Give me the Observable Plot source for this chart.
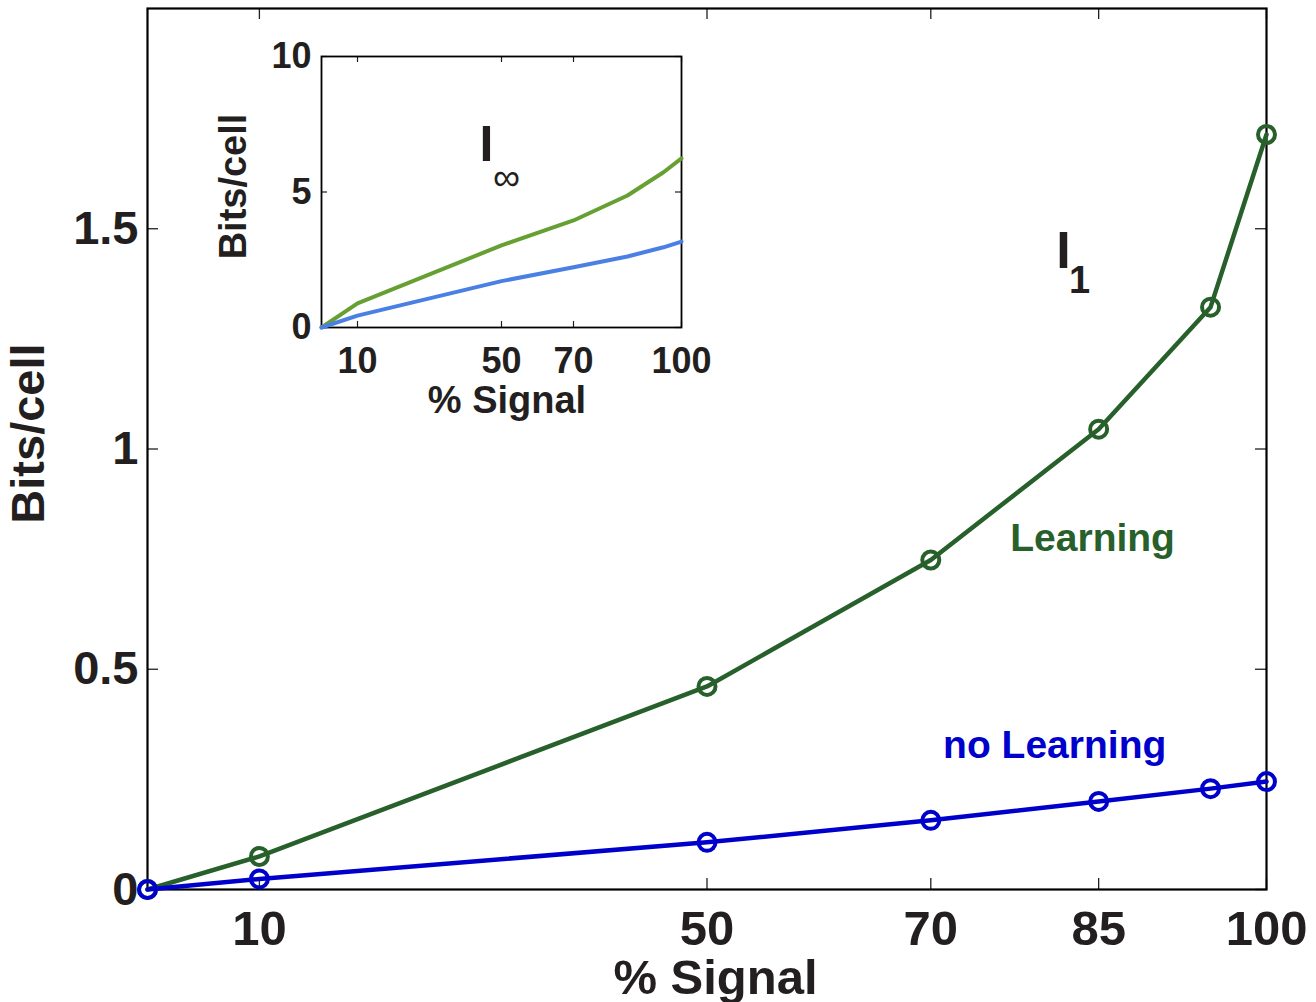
<!DOCTYPE html>
<html>
<head>
<meta charset="utf-8">
<script src="https://cdn.jsdelivr.net/npm/d3@7"></script>
<script src="https://cdn.jsdelivr.net/npm/@observablehq/plot@0.6"></script>
<style>
  html, body { margin: 0; padding: 0; background: #fff; }
  #wrap { position: relative; width: 1316px; height: 1002px; overflow: hidden; }
  #inset { position: absolute; left: 200px; top: 30px; }
</style>
</head>
<body>
<div id="wrap"><div id="main"></div><div id="inset"></div></div>
<script>
// ---- data ----
const signal = [0, 10, 50, 70, 85, 95, 100];
const learning = [0, 0.075, 0.461, 0.748, 1.045, 1.322, 1.714];
const noLearning = [0, 0.024, 0.107, 0.157, 0.200, 0.229, 0.245];

const insetLearning = [0, 0.89, 3.03, 3.95, 4.87, 5.73, 6.24];
const insetNoLearning = [0, 0.44, 1.71, 2.22, 2.62, 2.96, 3.17];

const xTicks = [10, 50, 70, 85, 100];
const yTicks = [0, 0.5, 1, 1.5];
const insetXTicks = [10, 50, 70, 100];
const insetYTicks = [0, 5, 10];

const FONT = "'Liberation Sans', Arial, Helvetica, sans-serif";
const INK = "#231f20";
const GREEN = "#27602b";
const BLUE = "#0000cc";
const IGREEN = "#66a032";
const IBLUE = "#4a80e4";

const mainRows = signal.map((s, i) => ({signal: s, value: learning[i], series: "Learning"}))
  .concat(signal.map((s, i) => ({signal: s, value: noLearning[i], series: "no Learning"})));
const insetRows = signal.map((s, i) => ({signal: s, value: insetLearning[i], series: "Learning"}))
  .concat(signal.map((s, i) => ({signal: s, value: insetNoLearning[i], series: "no Learning"})));

// ---- main chart ----
const W = 1316, H = 1002;
const mL = 147, mR = 50, mT = 8, mB = 113;
const xDom = [0, 100], yDom = [0, 2];
const tickPx = 11;
const kx = (xDom[1] - xDom[0]) / (W - mL - mR);
const ky = (yDom[1] - yDom[0]) / (H - mT - mB);

const main = Plot.plot({
  width: W, height: H,
  marginLeft: mL, marginRight: mR, marginTop: mT, marginBottom: mB,
  style: {fontFamily: FONT, background: "transparent", overflow: "visible"},
  x: {domain: xDom},
  y: {domain: yDom},
  color: {domain: ["Learning", "no Learning"], range: [GREEN, BLUE]},
  marks: [
    // inward ticks
    Plot.ruleX(xTicks, {y1: yDom[0], y2: yDom[0] + tickPx * ky, stroke: INK, strokeWidth: 1.3}),
    Plot.ruleX(xTicks, {y1: yDom[1] - tickPx * ky, y2: yDom[1], stroke: INK, strokeWidth: 1.3}),
    Plot.ruleY(yTicks, {x1: xDom[0], x2: xDom[0] + tickPx * kx, stroke: INK, strokeWidth: 1.3}),
    Plot.ruleY(yTicks, {x1: xDom[1] - tickPx * kx, x2: xDom[1], stroke: INK, strokeWidth: 1.3}),
    Plot.frame({stroke: "#000", strokeWidth: 2.2}),
    Plot.axisX({ticks: xTicks, tickSize: 0, tickPadding: 21, fontSize: 49, fontWeight: "bold",
      fontFamily: FONT, fill: INK, label: null, tickFormat: d => String(d)}),
    Plot.axisY({ticks: yTicks, tickSize: 0, tickPadding: 9, fontSize: 47, fontWeight: "bold",
      fontFamily: FONT, fill: INK, label: null, tickFormat: d => String(d)}),
    Plot.line(mainRows, {x: "signal", y: "value", z: "series", stroke: "series", strokeWidth: 4.5}),
    Plot.dot(mainRows, {x: "signal", y: "value", stroke: "series", r: 8.5, strokeWidth: 4, fill: "none"}),
    Plot.text(["% Signal"], {frameAnchor: "bottom", textAnchor: "middle", lineAnchor: "middle", dx: 8.5, dy: 89,
      fontSize: 49, fontWeight: "bold", fontFamily: FONT, fill: INK}),
    Plot.text(["Bits/cell"], {frameAnchor: "left", textAnchor: "middle", lineAnchor: "middle", dx: -118.5, dy: -15.5, rotate: -90,
      fontSize: 47, fontWeight: "bold", fontFamily: FONT, fill: INK}),
    Plot.text(["Learning"], {x: 77.1, y: 0.797, textAnchor: "start", fontSize: 39, fontWeight: "bold", fontFamily: FONT, fill: GREEN}),
    Plot.text(["no Learning"], {x: 71.1, y: 0.327, textAnchor: "start", fontSize: 39, fontWeight: "bold", fontFamily: FONT, fill: BLUE}),
    Plot.text(["I"], {x: 81.86, y: 1.449, fontSize: 52, fontWeight: "bold", fontFamily: FONT, fill: INK}),
    Plot.text(["1"], {x: 83.3, y: 1.382, fontSize: 38, fontWeight: "bold", fontFamily: FONT, fill: INK})
  ]
});
document.getElementById("main").appendChild(main);

// ---- inset ----
const iW = 500, iH = 400;
const iL = 121, iR = 19, iT = 26, iB = 103;
const ixDom = [0, 100], iyDom = [0, 10];
const iTickPx = 6;
const ikx = (ixDom[1] - ixDom[0]) / (iW - iL - iR);
const iky = (iyDom[1] - iyDom[0]) / (iH - iT - iB);

const inset = Plot.plot({
  width: iW, height: iH,
  marginLeft: iL, marginRight: iR, marginTop: iT, marginBottom: iB,
  style: {fontFamily: FONT, background: "transparent", overflow: "visible"},
  x: {domain: ixDom},
  y: {domain: iyDom},
  color: {domain: ["Learning", "no Learning"], range: [IGREEN, IBLUE]},
  marks: [
    Plot.frame({fill: "white", stroke: "none"}),
    Plot.ruleX(insetXTicks, {y1: iyDom[0], y2: iyDom[0] + iTickPx * iky, stroke: INK, strokeWidth: 1.2}),
    Plot.ruleX(insetXTicks, {y1: iyDom[1] - iTickPx * iky, y2: iyDom[1], stroke: INK, strokeWidth: 1.2}),
    Plot.ruleY(insetYTicks, {x1: ixDom[0], x2: ixDom[0] + iTickPx * ikx, stroke: INK, strokeWidth: 1.2}),
    Plot.ruleY(insetYTicks, {x1: ixDom[1] - iTickPx * ikx, x2: ixDom[1], stroke: INK, strokeWidth: 1.2}),
    Plot.frame({stroke: "#000", strokeWidth: 1.8}),
    Plot.axisX({ticks: insetXTicks, tickSize: 0, tickPadding: 20, fontSize: 36, fontWeight: "bold",
      fontFamily: FONT, fill: INK, label: null, tickFormat: d => String(d)}),
    Plot.axisY({ticks: insetYTicks, tickSize: 0, tickPadding: 10, fontSize: 36, fontWeight: "bold",
      fontFamily: FONT, fill: INK, label: null, tickFormat: d => String(d)}),
    Plot.line(insetRows, {x: "signal", y: "value", z: "series", stroke: "series", strokeWidth: 4}),
    Plot.text(["% Signal"], {frameAnchor: "bottom", textAnchor: "middle", lineAnchor: "middle", dx: 5.5, dy: 73,
      fontSize: 38, fontWeight: "bold", fontFamily: FONT, fill: INK}),
    Plot.text(["Bits/cell"], {frameAnchor: "left", textAnchor: "middle", lineAnchor: "middle", dx: -88, dy: -5.5, rotate: -90,
      fontSize: 38, fontWeight: "bold", fontFamily: FONT, fill: INK}),
    Plot.text(["I"], {x: 45.8, y: 6.72, fontSize: 50, fontWeight: "bold", fontFamily: FONT, fill: INK}),
    Plot.text(["∞"], {x: 51.4, y: 5.52, fontSize: 38, fontFamily: FONT, fill: INK})
  ]
});
document.getElementById("inset").appendChild(inset);
</script>
</body>
</html>
